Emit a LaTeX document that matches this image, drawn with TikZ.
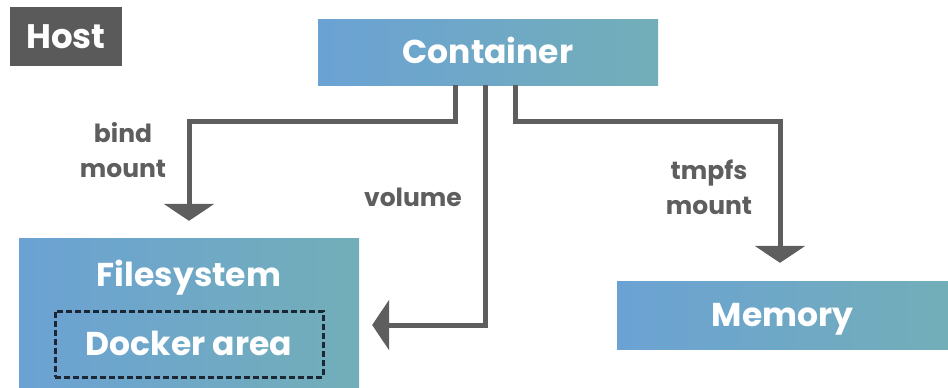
\documentclass[tikz,border=0pt]{standalone}
\usepackage{fontspec}
\setmainfont{Poppins}
\usetikzlibrary{arrows.meta,calc}
\definecolor{boxL}{HTML}{6BA2D4}
\definecolor{boxR}{HTML}{72AEB8}
\definecolor{lineGray}{HTML}{5E5E5E}
\definecolor{hostGray}{HTML}{5A5A5A}
\definecolor{dashNavy}{HTML}{1C2733}
\tikzset{
  bigtext/.style={font=\fontsize{33}{36}\selectfont\bfseries,
    text height=24pt, text depth=1pt},
  store/.style={left color=boxL, right color=boxR, draw=none, inner sep=0pt,
    text=white, bigtext},
  conn/.style={draw=lineGray, line width=5pt,
    -{Triangle[width=50pt,length=17pt]}},
  lbl/.style={text=lineGray, align=center,
    font=\fontsize{25}{35}\selectfont\bfseries}
}
\begin{document}
\begin{tikzpicture}[x=1pt,y=-1pt]
  \useasboundingbox (0,0) rectangle (948,388);
  % boxes
  \node[fill=hostGray, text=white, minimum width=112pt, minimum height=59pt,
    inner sep=0pt, font=\fontsize{34}{36}\selectfont\bfseries] (host) at (66,36.5) {Host};
  \node[store, minimum width=340pt, minimum height=66pt] (ctr) at (488,52) {Container};
  \node[store, minimum width=340pt, minimum height=150pt] (fs) at (189,313) {};
  \node[text=white, bigtext] (fstitle) at (189,275) {Filesystem};
  \node[draw=dashNavy, line width=3pt, dash pattern=on 6pt off 3pt,
    minimum width=268pt, minimum height=66pt, inner sep=0pt,
    text=white, bigtext] (docker) at (189,344) {Docker area};
  \node[store, minimum width=331pt, minimum height=68pt] (mem) at (782.5,315) {Memory};
  % connectors
  \draw[conn] ([xshift=-33pt]ctr.south) -- ++(0,36) -| ([yshift=17pt]fs.north);
  \draw[conn] ([xshift=-3pt]ctr.south) |- ([xshift=13pt,yshift=-12pt]fs.east);
  \draw[conn] ([xshift=27pt]ctr.south) -- ++(0,36) -| ([xshift=-2.5pt,yshift=18pt]mem.north);
  % labels
  \node[lbl] (lbind) at (123,150) {bind\\mount};
  \node[lbl] (lvol) at (413,197) {volume};
  \node[lbl] (ltmp) at (709,187) {tmpfs\\mount};
\end{tikzpicture}
\end{document}
